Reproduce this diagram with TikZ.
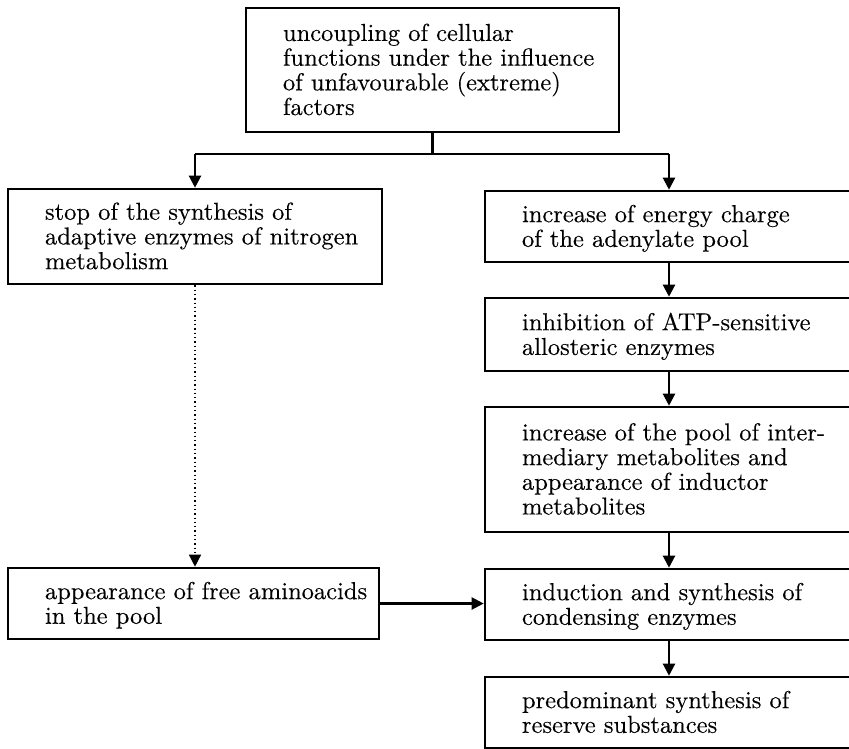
\documentclass[tikz,border=0pt]{standalone}
\usepackage{fontspec}
\newfontfamily\flowfont[FakeBold=0.25]{lmroman10-regular.otf}
\usetikzlibrary{arrows.meta}
\newcommand\flowtext[2]{\hbox to #1{\vbox{\vskip6pt\lineskiplimit=-30pt\baselineskip=24.7pt #2}\hss}}
\newcommand\flowline[1]{\hbox{\strut #1}}
\begin{document}
\begin{tikzpicture}[x=1pt,y=-1pt,
  flowbox/.style={draw, line width=2.6pt, rectangle, inner xsep=37pt, inner ysep=0pt,
    font=\flowfont\fontsize{24.5}{24.7}\selectfont},
  arr/.style={line width=2.2pt, -{Triangle[length=12pt,width=12pt]}},
  dotarr/.style={line width=1.3pt, dash pattern=on 1.3pt off 3pt, -{Triangle[length=12pt,width=12pt]}}]
\useasboundingbox (0,0) rectangle (849,748);
\clip (0,0) rectangle (849,748);
\node[flowbox, minimum width=373pt, minimum height=124pt] (top) at (432.5,70)
  {\flowtext{299pt}{\flowline{uncoupling of cellular}\flowline{functions under the influence}\flowline{of unfavourable (extreme)}\flowline{factors}}};
\node[flowbox, minimum width=374pt, minimum height=95pt] (L1) at (195,236.5)
  {\flowtext{300pt}{\flowline{stop of the synthesis of}\flowline{adaptive enzymes of nitrogen}\flowline{metabolism}}};
\node[flowbox, minimum width=371pt, minimum height=71pt] (L2) at (193.5,603.5)
  {\flowtext{297pt}{\flowline{appearance of free aminoacids}\flowline{in the pool}}};
\node[flowbox, minimum width=385pt, minimum height=71pt] (R1) at (677.5,226.5)
  {\flowtext{311pt}{\flowline{increase of energy charge}\flowline{of the adenylate pool}}};
\node[flowbox, minimum width=385pt, minimum height=73pt] (R2) at (677.5,334.5)
  {\flowtext{311pt}{\flowline{inhibition of ATP-sensitive}\flowline{allosteric enzymes}}};
\node[flowbox, minimum width=385pt, minimum height=125pt] (R3) at (677.5,469.5)
  {\flowtext{311pt}{\flowline{increase of the pool of inter-}\flowline{mediary metabolites and}\flowline{appearance of inductor}\flowline{metabolites}}};
\node[flowbox, minimum width=385pt, minimum height=71pt] (R4) at (677.5,604.5)
  {\flowtext{311pt}{\flowline{induction and synthesis of}\flowline{condensing enzymes}}};
\node[flowbox, minimum width=385pt, minimum height=71pt] (R5) at (677.5,712.5)
  {\flowtext{311pt}{\flowline{predominant synthesis of}\flowline{reserve substances}}};
\coordinate (colL) at (195,0);
\coordinate (colR) at (669,0);
\draw[line width=2.2pt] (top.south) -- ++(0,21) coordinate (split);
\draw[line width=2.2pt] (colL |- split) -- (colR |- split);
\draw[arr] (colL |- split) -- (colL |- L1.north);
\draw[arr] (colR |- split) -- (colR |- R1.north);
\draw[arr] (colR |- R1.south) -- (colR |- R2.north);
\draw[arr] (colR |- R2.south) -- (colR |- R3.north);
\draw[arr] (colR |- R3.south) -- (colR |- R4.north);
\draw[arr] (colR |- R4.south) -- (colR |- R5.north);
\draw[dotarr] (colL |- L1.south) -- (colL |- L2.north);
\draw[arr] (L2.east) -- (L2.east -| R4.west);
\end{tikzpicture}
\end{document}
